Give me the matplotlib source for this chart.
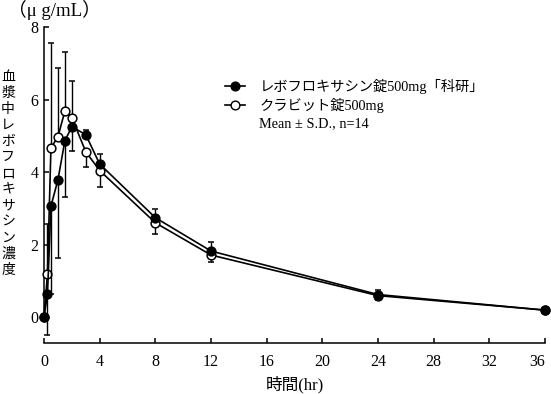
import matplotlib
matplotlib.use("Agg")
import matplotlib.pyplot as plt
from matplotlib.lines import Line2D
import numpy as np

plt.rcParams['font.family'] = ['Liberation Serif', 'Noto Sans CJK JP']

# time points (hr)
times = [0, 0.25, 0.5, 1, 1.5, 2, 3, 4, 8, 12, 24, 36]

# レボフロキサシン錠500mg「科研」
kaken_mean = [0.0, 0.63, 3.06, 3.78, 4.86, 5.25, 5.03, 4.22, 2.74, 1.82, 0.62, 0.19]
kaken_sd = [0.0, 1.13, 2.43, 2.16, 1.54, 0.66, 0.12, 0.28, 0.23, 0.25, 0.13, 0.03]

# クラビット錠500mg
cravit_mean = [0.0, 1.19, 4.67, 4.97, 5.68, 5.50, 4.56, 4.04, 2.60, 1.71, 0.59, 0.19]
cravit_sd = [0.0, 1.38, 2.88, 1.89, 1.64, 1.02, 0.41, 0.46, 0.32, 0.20, 0.13, 0.03]

label_kaken = "レボフロキサシン錠500mg「科研」"
label_cravit = "クラビット錠500mg"
label_note = "Mean ± S.D., n=14"
ylabel = "血漿中レボフロキサシン濃度"
xticks = [0, 4, 8, 12, 16, 20, 24, 28, 32, 36]
yticks = [0, 2, 4, 6, 8]

W, H = 551, 394
fig = plt.figure(figsize=(W / 100, H / 100), dpi=100)
ax = fig.add_axes([44 / W, 1 - 343 / H, (545 - 44) / W, (343 - 27) / H])

km, ks = np.array(kaken_mean), np.array(kaken_sd)
cm, cs = np.array(cravit_mean), np.array(cravit_sd)
# error bar drawn outward only: higher series up, lower series down
k_up = km >= cm
k_err = [np.where(k_up, 0, ks), np.where(k_up, ks, 0)]
c_err = [np.where(k_up, cs, 0), np.where(k_up, 0, cs)]

common = dict(color='black', lw=1.2, elinewidth=1.0, capsize=2.5, capthick=1.0,
              markersize=6.3, markeredgewidth=1.1)
eb_c = ax.errorbar(times, cravit_mean, yerr=c_err, marker='o', markerfacecolor='white',
                   zorder=3, **common)
eb_k = ax.errorbar(times, kaken_mean, yerr=k_err, marker='o', markerfacecolor='black',
                   zorder=4, **common)
for eb in (eb_c, eb_k):
    for art in eb.get_children():
        art.set_clip_on(False)

ax.set_xlim(0, 36)
ax.set_ylim(-0.717, 8)
ax.set_xticks(xticks)
ax.set_yticks(yticks)
for s in ('top', 'right'):
    ax.spines[s].set_visible(False)
ax.spines['left'].set_bounds(0, 8)
ax.spines['bottom'].set_bounds(0, 36)
for s in ('left', 'bottom'):
    ax.spines[s].set_linewidth(1.1)
ax.tick_params(axis='both', direction='in', length=3.5, width=1.1, labelsize=11.5)
ax.tick_params(axis='x', pad=8)
ax.tick_params(axis='y', pad=4)
ax.get_xticklabels()[-1].set_ha('right')

ax.set_xlabel("時間(hr)", fontsize=12)
ax.xaxis.set_label_coords(0.5, -0.105)

fig.text(8 / W, 1 - 10 / H, "（μ g/mL）", fontsize=13.5, va='center', ha='left')
# vertical label, one character per row
n = len(ylabel)
for i, ch in enumerate(ylabel):
    y = 77 + i * (270 - 109) / 10
    fig.text(8 / W, 1 - y / H, ch, fontsize=10, va='center', ha='center')

handles = [
    Line2D([], [], color='black', lw=1.2, marker='o', markersize=6.3, markerfacecolor='black'),
    Line2D([], [], color='black', lw=1.2, marker='o', markersize=6.3, markerfacecolor='white'),
    Line2D([], [], linestyle='none'),
]
fig.legend(handles, [label_kaken, label_cravit, label_note], loc='upper left',
           bbox_to_anchor=(225 / W, 1 - 79 / H), frameon=False, fontsize=10.3,
           borderpad=0, borderaxespad=0, handlelength=1.4, handletextpad=1.0,
           labelspacing=0.3)

fig.savefig("out.png", dpi=100)
